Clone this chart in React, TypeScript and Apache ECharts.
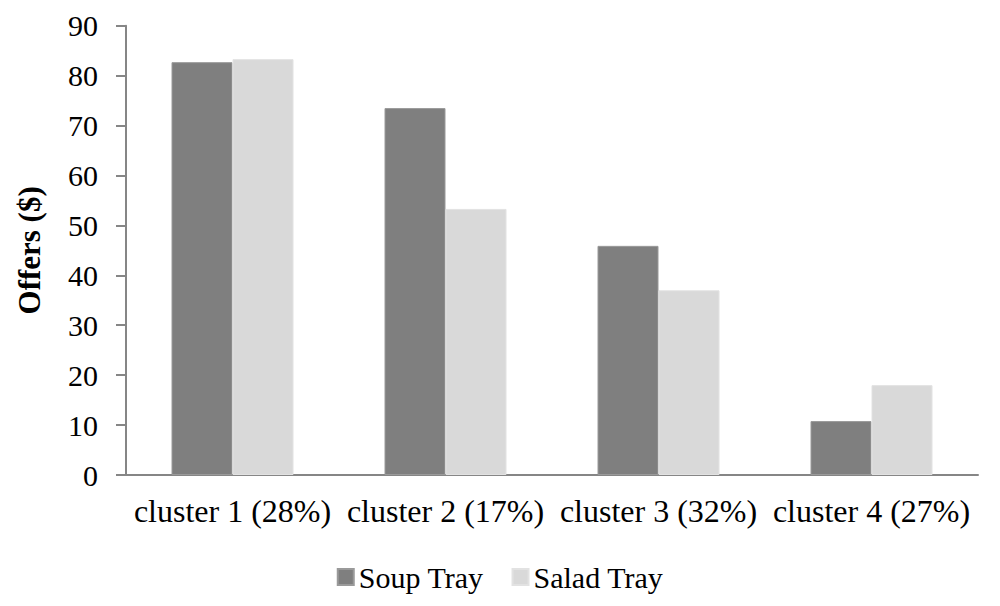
import React, { useEffect, useRef } from "react";
import * as echarts from "echarts";

const categories = ["cluster 1 (28%)", "cluster 2 (17%)", "cluster 3 (32%)", "cluster 4 (27%)"];
const soupTray = [82.7, 73.5, 45.9, 10.8];
const saladTray = [83.3, 53.3, 37.0, 18.0];
const seriesNames = ["Soup Tray", "Salad Tray"];

const FONT = "'Liberation Serif', 'Times New Roman', serif";

export default function App() {
  const ref = useRef<HTMLDivElement>(null);
  useEffect(() => {
    if (!ref.current) return;
    const chart = echarts.init(ref.current, undefined, { renderer: "svg" });
    chart.setOption({
      animation: false,
      backgroundColor: "#ffffff",
      textStyle: { fontFamily: FONT },
      grid: { left: 126, right: 22, top: 25.7, bottom: 131, containLabel: false },
      legend: {
        data: seriesNames,
        left: "center",
        top: 557,
        itemWidth: 16,
        itemHeight: 16,
        itemGap: 28,
        icon: "rect",
        textStyle: { fontFamily: FONT, fontSize: 30, color: "#000", lineHeight: 30 },
      },
      xAxis: {
        type: "category",
        data: categories,
        axisLine: { show: true, lineStyle: { color: "#868686", width: 2 } },
        axisTick: { show: false },
        axisLabel: { interval: 0, fontFamily: FONT, fontSize: 32, color: "#000", margin: 20 },
      },
      yAxis: {
        type: "value",
        min: 0,
        max: 90,
        interval: 10,
        name: "Offers ($)",
        nameLocation: "middle",
        nameRotate: 90,
        nameGap: 81,
        nameTextStyle: { fontFamily: FONT, fontSize: 31, fontWeight: "bold", color: "#000" },
        axisLine: { show: true, lineStyle: { color: "#868686", width: 2 } },
        axisTick: { show: true, length: 10, lineStyle: { color: "#868686", width: 2 } },
        splitLine: { show: false },
        axisLabel: { fontFamily: FONT, fontSize: 30, color: "#000", margin: 28 },
      },
      series: [
        {
          name: seriesNames[0],
          type: "bar",
          data: soupTray,
          barWidth: 61,
          barGap: "0%",
          itemStyle: { color: "#7f7f7f", borderColor: "#9a9a9a", borderWidth: 1 },
        },
        {
          name: seriesNames[1],
          type: "bar",
          data: saladTray,
          barWidth: 61,
          barGap: "0%",
          itemStyle: { color: "#d9d9d9", borderColor: "#e2e2e2", borderWidth: 1 },
        },
      ],
    });
    return () => chart.dispose();
  }, []);
  return (
    <div
      ref={ref}
      style={{ position: "fixed", left: 0, top: 0, width: 1000, height: 606, background: "#fff" }}
    />
  );
}
